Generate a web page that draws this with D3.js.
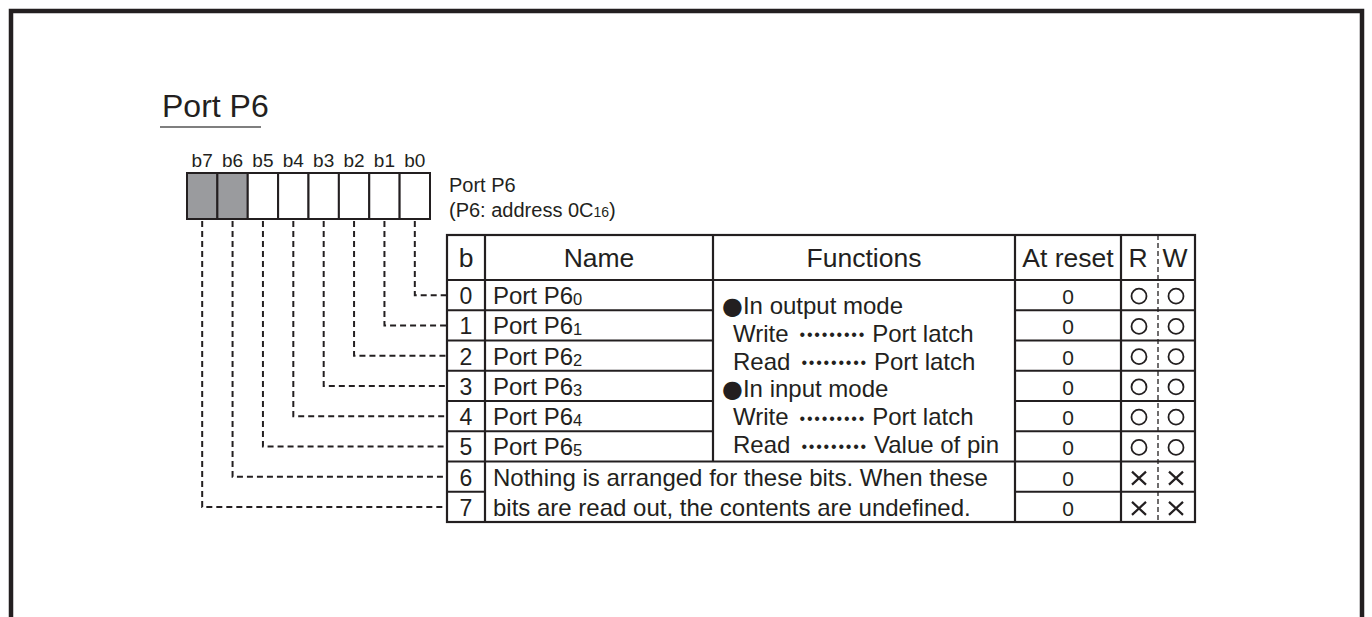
<!DOCTYPE html>
<html>
<head>
<meta charset="utf-8">
<script src="https://cdn.jsdelivr.net/npm/d3@7"></script>
<style>
  html, body { margin: 0; padding: 0; background: #fff; }
  svg { display: block; font-family: "Liberation Sans", Arial, Helvetica, sans-serif; }
</style>
</head>
<body>
<svg id="chart" width="1372" height="617"></svg>
<script>
// ---------------- data ----------------
const title = "Port P6";
const bitLabels = ["b7", "b6", "b5", "b4", "b3", "b2", "b1", "b0"];
const bitShaded = [true, true, false, false, false, false, false, false];
const registerName = "Port P6";
const registerAddrMain = "(P6: address 0C";
const registerAddrSub = "16";
const registerAddrEnd = ")";
const headers = ["b", "Name", "Functions", "At reset", "R", "W"];
const bitNumbers = [0, 1, 2, 3, 4, 5, 6, 7];
const namesMain = ["Port P6", "Port P6", "Port P6", "Port P6", "Port P6", "Port P6"];
const namesSub = ["0", "1", "2", "3", "4", "5"];
const functionLines = [
  { bullet: true,  a: "In output mode", dots: false, b: "" },
  { bullet: false, a: "Write", dots: true, b: "Port latch" },
  { bullet: false, a: "Read", dots: true, b: "Port latch" },
  { bullet: true,  a: "In input mode", dots: false, b: "" },
  { bullet: false, a: "Write", dots: true, b: "Port latch" },
  { bullet: false, a: "Read", dots: true, b: "Value of pin" }
];
const reservedText = ["Nothing is arranged for these bits. When these",
                      "bits are read out, the contents are undefined."];
const atReset = ["0", "0", "0", "0", "0", "0", "0", "0"];
const readable = ["O", "O", "O", "O", "O", "O", "X", "X"];
const writable = ["O", "O", "O", "O", "O", "O", "X", "X"];

// ---------------- layout ----------------
const ink = "#231f20";
const svg = d3.select("#chart");

// outer frame (open at bottom)
svg.append("path")
  .attr("d", "M11,620 V11 H1362 V620")
  .attr("fill", "none").attr("stroke", ink).attr("stroke-width", 4.5);

// title
svg.append("text").attr("x", 162).attr("y", 117)
  .attr("font-size", 32).attr("fill", ink).text(title);
svg.append("line").attr("x1", 160).attr("x2", 261).attr("y1", 127).attr("y2", 127)
  .attr("stroke", "#555").attr("stroke-width", 1.5);

// bit boxes
const bitX = d3.scaleBand().domain(d3.range(8)).range([187, 430]);
const boxTop = 173, boxBottom = 219;
svg.append("g").selectAll("rect").data(bitLabels).join("rect")
  .attr("x", (d, i) => bitX(i)).attr("y", boxTop)
  .attr("width", bitX.bandwidth()).attr("height", boxBottom - boxTop)
  .attr("fill", (d, i) => bitShaded[i] ? "#9a9b9e" : "#fff")
  .attr("stroke", ink).attr("stroke-width", 2);
svg.append("g").selectAll("text").data(bitLabels).join("text")
  .attr("x", (d, i) => bitX(i) + bitX.bandwidth() / 2).attr("y", 167)
  .attr("text-anchor", "middle").attr("font-size", 19).attr("fill", ink)
  .text(d => d);

// register label
svg.append("text").attr("x", 449).attr("y", 192).attr("font-size", 20).attr("fill", ink)
  .text(registerName);
const addr = svg.append("text").attr("x", 449).attr("y", 217).attr("font-size", 20).attr("fill", ink);
addr.append("tspan").text(registerAddrMain);
addr.append("tspan").attr("font-size", 14).text(registerAddrSub);
addr.append("tspan").text(registerAddrEnd);

// table geometry
const colEdges = [447, 485, 713, 1015, 1121, 1158, 1195];
const headTop = 235, headBottom = 280, tableBottom = 522;
const rowY = d3.scaleBand().domain(bitNumbers).range([headBottom, tableBottom]);
const rc = i => rowY(i) + rowY.bandwidth() / 2;

const g = svg.append("g").attr("stroke", ink).attr("stroke-width", 2.2).attr("fill", "none");
g.append("rect").attr("x", colEdges[0]).attr("y", headTop)
  .attr("width", colEdges[6] - colEdges[0]).attr("height", tableBottom - headTop);
g.append("line").attr("x1", colEdges[0]).attr("x2", colEdges[6]).attr("y1", headBottom).attr("y2", headBottom);
g.append("line").attr("x1", colEdges[1]).attr("x2", colEdges[1]).attr("y1", headTop).attr("y2", tableBottom);
g.append("line").attr("x1", colEdges[2]).attr("x2", colEdges[2]).attr("y1", headTop).attr("y2", rowY(6));
g.append("line").attr("x1", colEdges[3]).attr("x2", colEdges[3]).attr("y1", headTop).attr("y2", tableBottom);
g.append("line").attr("x1", colEdges[4]).attr("x2", colEdges[4]).attr("y1", headTop).attr("y2", tableBottom);
g.append("line").attr("x1", colEdges[5]).attr("x2", colEdges[5]).attr("y1", headTop).attr("y2", tableBottom)
  .attr("stroke-width", 1.3).attr("stroke-dasharray", "5,3");
bitNumbers.slice(1).forEach(i => {
  const y = rowY(i);
  g.append("line").attr("x1", colEdges[0]).attr("x2", colEdges[1]).attr("y1", y).attr("y2", y);
  if (i <= 6) g.append("line").attr("x1", colEdges[1]).attr("x2", colEdges[2]).attr("y1", y).attr("y2", y);
  if (i === 6) g.append("line").attr("x1", colEdges[2]).attr("x2", colEdges[3]).attr("y1", y).attr("y2", y);
  g.append("line").attr("x1", colEdges[3]).attr("x2", colEdges[6]).attr("y1", y).attr("y2", y);
});

// headers
const headCenters = [0, 1, 2, 3].map(i => (colEdges[i] + colEdges[i + 1]) / 2);
headCenters.push(colEdges[4] + 17, colEdges[5] + 17);
svg.append("g").selectAll("text").data(headers).join("text")
  .attr("x", (d, i) => headCenters[i]).attr("y", 267)
  .attr("text-anchor", "middle").attr("font-size", 26.5).attr("fill", ink)
  .text(d => d);

// bit numbers
svg.append("g").selectAll("text").data(bitNumbers).join("text")
  .attr("x", (colEdges[0] + colEdges[1]) / 2).attr("y", d => rc(d) + 9)
  .attr("text-anchor", "middle").attr("font-size", 23).attr("fill", ink)
  .text(d => d);

// names
const nameG = svg.append("g");
namesMain.forEach((n, i) => {
  const t = nameG.append("text").attr("x", 493).attr("y", rc(i) + 9)
    .attr("font-size", 24).attr("fill", ink);
  t.append("tspan").text(n);
  t.append("tspan").attr("font-size", 16.5).attr("dy", 1).text(namesSub[i]);
});

// functions text
const fnY = d3.scaleLinear().domain([0, 5]).range([314, 453]);
functionLines.forEach((l, i) => {
  const t = svg.append("text").attr("x", l.bullet ? 722 : 733).attr("y", fnY(i))
    .attr("font-size", 24).attr("fill", ink);
  if (l.bullet) t.append("tspan").attr("font-family", "DejaVu Sans").attr("font-size", 24).text("\u25CF");
  t.append("tspan").text(l.a);
  if (l.dots) {
    t.append("tspan").attr("font-size", 16).attr("letter-spacing", 1.8).attr("dx", 11).attr("dy", -1.5)
      .text("\u2022\u2022\u2022\u2022\u2022\u2022\u2022\u2022\u2022");
    t.append("tspan").attr("dx", 6).attr("dy", 1.5).text(l.b);
  }
});

// reserved bits text
reservedText.forEach((s, k) => {
  svg.append("text").attr("x", 493).attr("y", rc(6 + k) + 9)
    .attr("font-size", 24).attr("fill", ink).text(s);
});

// at reset
svg.append("g").selectAll("text").data(atReset).join("text")
  .attr("x", (colEdges[3] + colEdges[4]) / 2).attr("y", (d, i) => rc(i) + 9)
  .attr("text-anchor", "middle").attr("font-size", 21).attr("fill", ink)
  .text(d => d);

// R / W symbols
function drawSymbols(values, cx) {
  const sg = svg.append("g").attr("stroke", ink).attr("fill", "none").attr("stroke-width", 1.8);
  values.forEach((v, i) => {
    const cy = rc(i) + 1;
    if (v === "O") {
      sg.append("circle").attr("cx", cx).attr("cy", cy).attr("r", 7.5);
    } else {
      sg.append("path").attr("stroke-width", 2.2)
        .attr("d", `M${cx - 7},${cy - 6} L${cx + 7},${cy + 7} M${cx + 7},${cy - 6} L${cx - 7},${cy + 7}`);
    }
  });
}
drawSymbols(readable, colEdges[4] + 18);
drawSymbols(writable, colEdges[5] + 18);

// dashed leader lines from bits to rows
const lg = svg.append("g").attr("stroke", ink).attr("fill", "none")
  .attr("stroke-width", 2).attr("stroke-dasharray", "6,4");
bitNumbers.forEach(b => {
  const col = 7 - b;
  const x = bitX(col) + bitX.bandwidth() / 2;
  const y = rc(b);
  lg.append("path").attr("d", `M${x},${boxBottom + 2} V${y} H${colEdges[0]}`);
});
</script>
</body>
</html>
